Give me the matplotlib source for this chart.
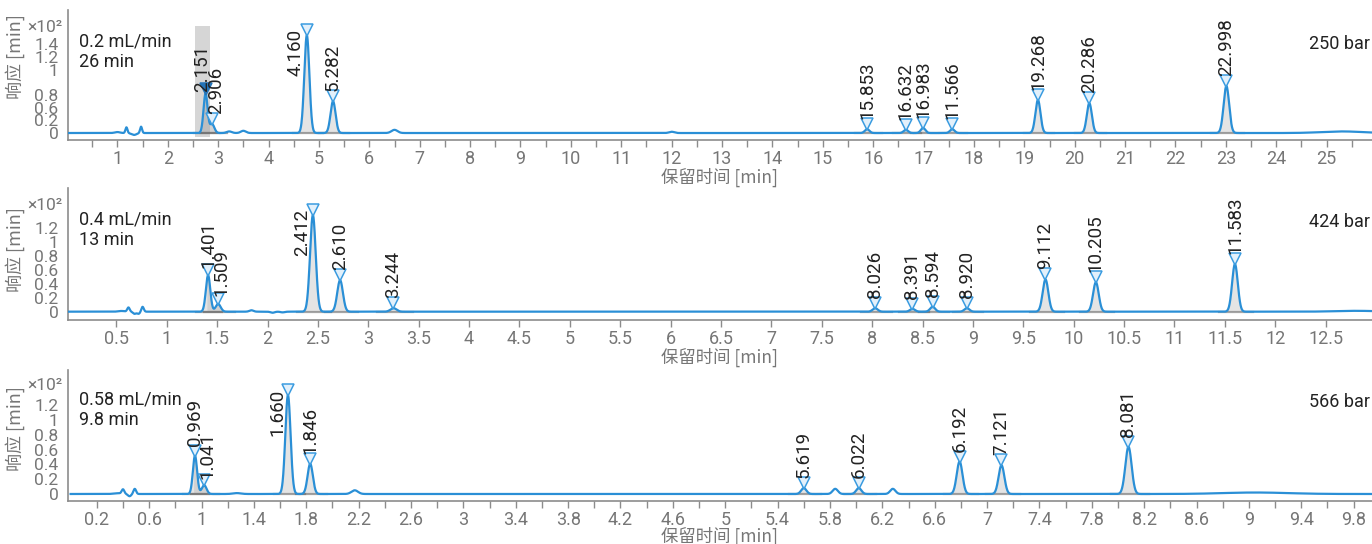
import numpy as np
import matplotlib
matplotlib.use('Agg')
import matplotlib.pyplot as plt
import matplotlib.transforms as mtransforms
from matplotlib import font_manager
from matplotlib.ticker import FixedLocator, FuncFormatter

plt.rcParams['font.family'] = ['Roboto', 'Noto Sans CJK SC', 'DejaVu Sans']
plt.rcParams['axes.unicode_minus'] = False

# ── Data (heights in units of 10^2) ──
run1_flow = '0.2 mL/min'
run1_time = '26 min'
run1_pressure = '250 bar'
run1_labels = ['2.151', '2.906', '4.160', '5.282', '15.853', '16.632', '16.983',
               '11.566', '19.268', '20.286', '22.998']
run1_rt = [2.75, 2.88, 4.76, 5.28, 15.88, 16.65, 16.99, 17.57, 19.27, 20.29, 23.01]
run1_height = [0.62, 0.14, 1.54, 0.50, 0.06, 0.05, 0.08, 0.06, 0.52, 0.47, 0.74]
run1_width = [0.040, 0.045, 0.050, 0.050, 0.045, 0.045, 0.045, 0.045, 0.050, 0.050, 0.055]
run1_bump_rt = [1.00, 1.18, 1.33, 1.47, 3.22, 3.50, 6.50, 12.0, 25.3]
run1_bump_h = [0.015, 0.09, -0.03, 0.10, 0.025, 0.035, 0.05, 0.02, 0.025]
run1_bump_w = [0.05, 0.02, 0.05, 0.02, 0.05, 0.05, 0.06, 0.05, 0.4]

run2_flow = '0.4 mL/min'
run2_time = '13 min'
run2_pressure = '424 bar'
run2_labels = ['1.401', '1.509', '2.412', '2.610', '3.244', '8.026', '8.391', '8.594',
               '8.920', '9.112', '10.205', '11.583']
run2_rt = [1.41, 1.51, 2.45, 2.72, 3.25, 8.03, 8.40, 8.60, 8.94, 9.72, 10.22, 11.60]
run2_height = [0.52, 0.11, 1.38, 0.45, 0.05, 0.05, 0.04, 0.07, 0.05, 0.46, 0.42, 0.68]
run2_width = [0.022, 0.025, 0.028, 0.028, 0.03, 0.025, 0.025, 0.025, 0.025, 0.028, 0.028, 0.028]
run2_bump_rt = [0.55, 0.62, 0.68, 0.72, 0.76, 1.84, 2.05, 2.15, 12.8]
run2_bump_h = [0.01, 0.06, -0.03, -0.03, 0.07, 0.02, -0.015, -0.01, 0.012]
run2_bump_w = [0.03, 0.012, 0.015, 0.015, 0.012, 0.02, 0.02, 0.02, 0.2]

run3_flow = '0.58 mL/min'
run3_time = '9.8 min'
run3_pressure = '566 bar'
run3_labels = ['0.969', '1.041', '1.660', '1.846', '5.619', '6.022', '6.192', '7.121', '8.081']
run3_rt = [0.95, 1.02, 1.66, 1.83, 5.60, 6.02, 6.79, 7.11, 8.08]
run3_height = [0.52, 0.12, 1.34, 0.41, 0.08, 0.08, 0.44, 0.39, 0.64]
run3_width = [0.016, 0.018, 0.020, 0.020, 0.020, 0.020, 0.022, 0.022, 0.024]
run3_bump_rt = [0.36, 0.40, 0.45, 0.49, 1.27, 2.17, 5.84, 6.28, 9.05]
run3_bump_h = [0.01, 0.06, -0.03, 0.07, 0.012, 0.05, 0.07, 0.07, 0.02]
run3_bump_w = [0.03, 0.010, 0.012, 0.010, 0.03, 0.025, 0.02, 0.02, 0.25]

# selected peak band (run 1)
sel_band_rt = (2.54, 2.83)
sel_band_y = (-0.06, 1.68)
selected_label = '2.151'

y_tick_pos_1 = [0, 0.2, 0.4, 0.6, 0.8, 1.0, 1.2, 1.4]
y_tick_lab_1 = ['0', '0.2', '0.6', '0.8', '', '1', '1.2', '1.4']
y_tick_pos_23 = [0, 0.2, 0.4, 0.6, 0.8, 1.0, 1.2]
y_tick_lab_23 = ['0', '0.2', '0.4', '0.6', '0.8', '1', '1.2']

# ── Style ──
W, H = 1372, 544
LINE = '#2a8fd6'
MARK_EDGE = '#3b9ce0'
MARK_FACE = '#e2f0fb'
SEL = '#2373b8'
GRAY_TXT = '#767676'
SPINE = '#8c8c8c'
TEXT = '#222222'
CJK = ['Noto Sans CJK SC', 'Roboto']

_names = {f.name for f in font_manager.fontManager.ttflist}
NARROW = 'Liberation Sans Narrow' if 'Liberation Sans Narrow' in _names else 'Roboto'

fig = plt.figure(figsize=(W / 100, H / 100), dpi=100)


def px_rect(top, bottom, left=68, right=W):
    return [left / W, 1 - bottom / H, (right - left) / W, (bottom - top) / H]


def fig_xy(x, y):
    return x / W, 1 - y / H


# label nudges (dx px, dy px, mode)
NUDGE = {
    '2.151': (-3, -8, 'above'),
    '2.906': (4, 0, 'above'),
    '4.160': (-2, 0, 'beside'),
    '1.509': (3, -2, 'above'),
    '1.401': (0, -3, 'above'),
    '2.412': (-2, 0, 'beside'),
    '1.041': (3, -4, 'above'),
    '1.660': (-2, 0, 'beside'),
}


def draw_run(rect, xlim, ylim, labels, rt, height, width, brt, bh, bw,
             flow, rtime, pressure, text_y, xlab_y,
             xmajor, xminor, yticks, yticklabels, ylabel_frac):
    ax = fig.add_axes(rect)
    t = np.linspace(0, xlim[1], 8000)
    sig = np.zeros_like(t)
    peaks = []
    for p, h, w in zip(rt, height, width):
        sig += h * np.exp(-0.5 * ((t - p) / w) ** 2)
        peaks.append((p, h, w))
    for p, h, w in zip(brt, bh, bw):
        sig += h * np.exp(-0.5 * ((t - p) / w) ** 2)

    # integration shading and baselines
    for (p, h, w) in peaks:
        lo, hi = p - 4.5 * w, p + 5.5 * w
        m = (t >= lo) & (t <= hi)
        ax.fill_between(t[m], 0, sig[m], color='#a6a6a6', alpha=0.3, lw=0, zorder=2)
        ax.plot([lo - w, hi + w], [0, 0], color='#5f5f5f', lw=1.6, alpha=0.55, zorder=2)

    ax.plot(t, sig, color=LINE, lw=1.6, zorder=3)

    ms = 8
    for lab, (p, h, w) in zip(labels, peaks):
        selected = lab == selected_label
        tr = mtransforms.offset_copy(ax.transData, fig=fig, y=ms * 0.45, units='points')
        ax.plot([p], [h], marker='v', ms=ms, mew=1.1,
                mec=SEL if selected else MARK_EDGE,
                mfc=SEL if selected else MARK_FACE,
                transform=tr, zorder=5, clip_on=False)
        dx, dy, mode = NUDGE.get(lab, (0, 0, 'above'))
        if mode == 'beside':
            ttr = mtransforms.offset_copy(ax.transData, fig=fig, x=dx * 0.72,
                                          y=(6 + dy) * 0.72, units='points')
            ax.text(p, h, lab, rotation=90, ha='right', va='top', fontsize=13.5,
                    color=TEXT, transform=ttr, zorder=6)
        else:
            ttr = mtransforms.offset_copy(ax.transData, fig=fig, x=dx * 0.72,
                                          y=(10 + dy) * 0.72, units='points')
            ax.text(p, h, lab, rotation=90, ha='center', va='bottom', fontsize=13.5,
                    color=TEXT, transform=ttr, zorder=6)

    ax.set_xlim(*xlim)
    ax.set_ylim(*ylim)
    for s in ['top', 'right']:
        ax.spines[s].set_visible(False)
    for s in ['left', 'bottom']:
        ax.spines[s].set_color(SPINE)
        ax.spines[s].set_linewidth(1.2)

    ax.xaxis.set_major_locator(FixedLocator(xmajor))
    ax.xaxis.set_minor_locator(FixedLocator(xminor))
    ax.xaxis.set_major_formatter(FuncFormatter(lambda v, _: f'{v:g}'))
    ax.tick_params(axis='x', which='both', direction='out', length=5, width=1,
                   color=SPINE, labelcolor=GRAY_TXT, labelsize=13, pad=2)
    ax.set_yticks(yticks)
    ax.set_yticklabels(yticklabels)
    ax.tick_params(axis='y', length=0, pad=7, labelcolor=GRAY_TXT, labelsize=12.5)
    for lb in ax.get_xticklabels() + ax.get_yticklabels():
        lb.set_family(NARROW)

    ax.set_ylabel('响应 [min]', fontsize=13, color=GRAY_TXT, family=CJK)
    ax.yaxis.set_label_coords(-0.033, ylabel_frac)

    fig.text(*fig_xy(63, text_y - 14), '×10²', ha='right', va='center',
             fontsize=12.5, color=GRAY_TXT, family=NARROW)
    fig.text(*fig_xy(79, text_y), flow, ha='left', va='center', fontsize=13, color=TEXT)
    fig.text(*fig_xy(79, text_y + 20), rtime, ha='left', va='center', fontsize=13, color=TEXT)
    fig.text(*fig_xy(1370, text_y + 2), pressure, ha='right', va='center',
             fontsize=13, color=TEXT)
    fig.text(*fig_xy(720, xlab_y), '保留时间 [min]', ha='center', va='center',
             fontsize=12.5, color=GRAY_TXT, family=CJK)
    return ax


ax1 = draw_run(px_rect(10, 140), (0.02, 25.9), (-0.110, 1.937),
               run1_labels, run1_rt, run1_height, run1_width,
               run1_bump_rt, run1_bump_h, run1_bump_w,
               run1_flow, run1_time, run1_pressure, 42, 177,
               np.arange(1, 26, 1), np.arange(0.5, 26, 1),
               y_tick_pos_1, y_tick_lab_1, 0.64)
ax1.fill_between(sel_band_rt, sel_band_y[0], sel_band_y[1], color='#d6d6d6',
                 lw=0, zorder=1)

ax2 = draw_run(px_rect(188, 320), (0.02, 12.96), (-0.119, 1.767),
               run2_labels, run2_rt, run2_height, run2_width,
               run2_bump_rt, run2_bump_h, run2_bump_w,
               run2_flow, run2_time, run2_pressure, 220, 357,
               np.arange(0.5, 13, 0.5), [],
               y_tick_pos_23, y_tick_lab_23, 0.53)

ax3 = draw_run(px_rect(370, 501), (-0.02, 9.94), (-0.095, 1.681),
               run3_labels, run3_rt, run3_height, run3_width,
               run3_bump_rt, run3_bump_h, run3_bump_w,
               run3_flow, run3_time, run3_pressure, 400, 536,
               np.arange(0.2, 9.95, 0.4), np.arange(0.4, 9.95, 0.4),
               y_tick_pos_23, y_tick_lab_23, 0.55)

fig.savefig('out.png', dpi=100)
